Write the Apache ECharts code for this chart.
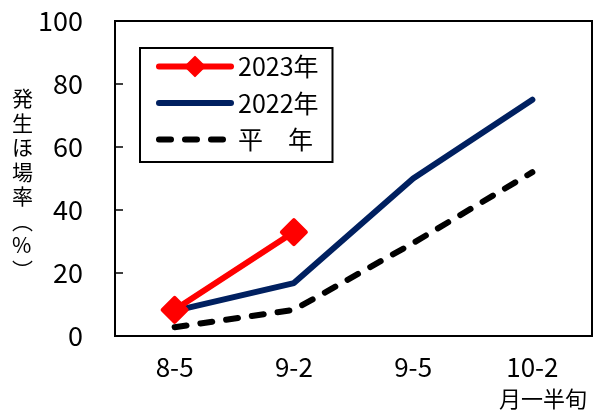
<!DOCTYPE html>
<html><head><meta charset="utf-8">
<script src="https://cdn.jsdelivr.net/npm/echarts@6/dist/echarts.min.js"></script>
<style>html,body{margin:0;padding:0;background:#fff}#c{width:597px;height:412px}</style>
</head><body><div id="c"></div>
<script>
const categories = ['8-5', '9-2', '9-5', '10-2'];
const s2023 = [8.3, 33.0, null, null];
const s2022 = [8.0, 16.8, 50.0, 75.0];
const sNormal = [2.8, 8.3, 29.5, 52.0];
const yTicks = [0, 20, 40, 60, 80, 100];
const seriesNames = ['2023年', '2022年', '平　年'];

const FONT = '"Noto Sans CJK JP", sans-serif';
const chart = echarts.init(document.getElementById('c'), null, {renderer: 'canvas'});
chart.setOption({
  animation: false,
  backgroundColor: '#fff',
  grid: {left: 115, right: 5, top: 21, bottom: 76, show: true, borderColor: '#000', borderWidth: 2, backgroundColor: 'transparent'},
  xAxis: {
    type: 'category', data: categories, boundaryGap: true,
    axisLine: {lineStyle: {color: '#000', width: 2}},
    axisTick: {inside: true, length: 8, interval: 0, lineStyle: {color: '#000', width: 1.5}},
    axisLabel: {color: '#000', fontSize: 26, fontFamily: FONT, margin: 18}
  },
  yAxis: {
    type: 'value', min: 0, max: 100, interval: 20,
    axisLine: {show: true, lineStyle: {color: '#000', width: 2}},
    axisTick: {show: true, inside: true, length: 8, lineStyle: {color: '#000', width: 1.5}},
    splitLine: {show: false},
    axisLabel: {color: '#000', fontSize: 27, fontFamily: FONT, margin: 32,
      formatter: v => yTicks.includes(v) ? String(v) : ''}
  },
  legend: {
    left: 140, top: 48, orient: 'vertical',
    width: 197, height: 110,
    borderColor: '#000', borderWidth: 2, padding: [6, 14, 10, 16],
    itemWidth: 72, itemHeight: 24, itemGap: 11.5,
    textStyle: {color: '#000', fontSize: 25, lineHeight: 24, fontFamily: FONT, padding: [0, 0, 0, 2]},
    data: [
      {name: seriesNames[0], lineStyle: {width: 6, cap: 'round'}},
      {name: seriesNames[1], lineStyle: {width: 6, cap: 'round'}, itemStyle: {opacity: 0}},
      {name: seriesNames[2], lineStyle: {width: 6, cap: 'round', type: [12, 14]}, itemStyle: {opacity: 0}}
    ]
  },
  series: [
    {name: seriesNames[2], type: 'line', data: sNormal, symbol: 'none', z: 2,
      lineStyle: {color: '#000', width: 6, type: [12, 14], cap: 'round'}, itemStyle: {color: '#000'}},
    {name: seriesNames[1], type: 'line', data: s2022, symbol: 'none', z: 3,
      lineStyle: {color: '#002060', width: 6, cap: 'round'}, itemStyle: {color: '#002060'}},
    {name: seriesNames[0], type: 'line', data: s2023, symbol: 'diamond', symbolSize: 24, z: 4,
      lineStyle: {color: '#ff0000', width: 6, cap: 'round'},
      itemStyle: {color: '#ff0000', borderColor: '#ff0000', borderWidth: 4, borderJoin: 'round'}}
  ],
  graphic: [
    {type: 'text', left: 12, top: 86, style: {
      text: '発\n生\nほ\n場\n率\n︵\n%\n︶', fontSize: 21, lineHeight: 24.5, fontFamily: FONT, fill: '#000', align: 'center'}},
    {type: 'text', right: 10, top: 388, style: {
      text: '月一半旬', fontSize: 22, fontFamily: FONT, fill: '#000'}}
  ]
});
</script></body></html>
